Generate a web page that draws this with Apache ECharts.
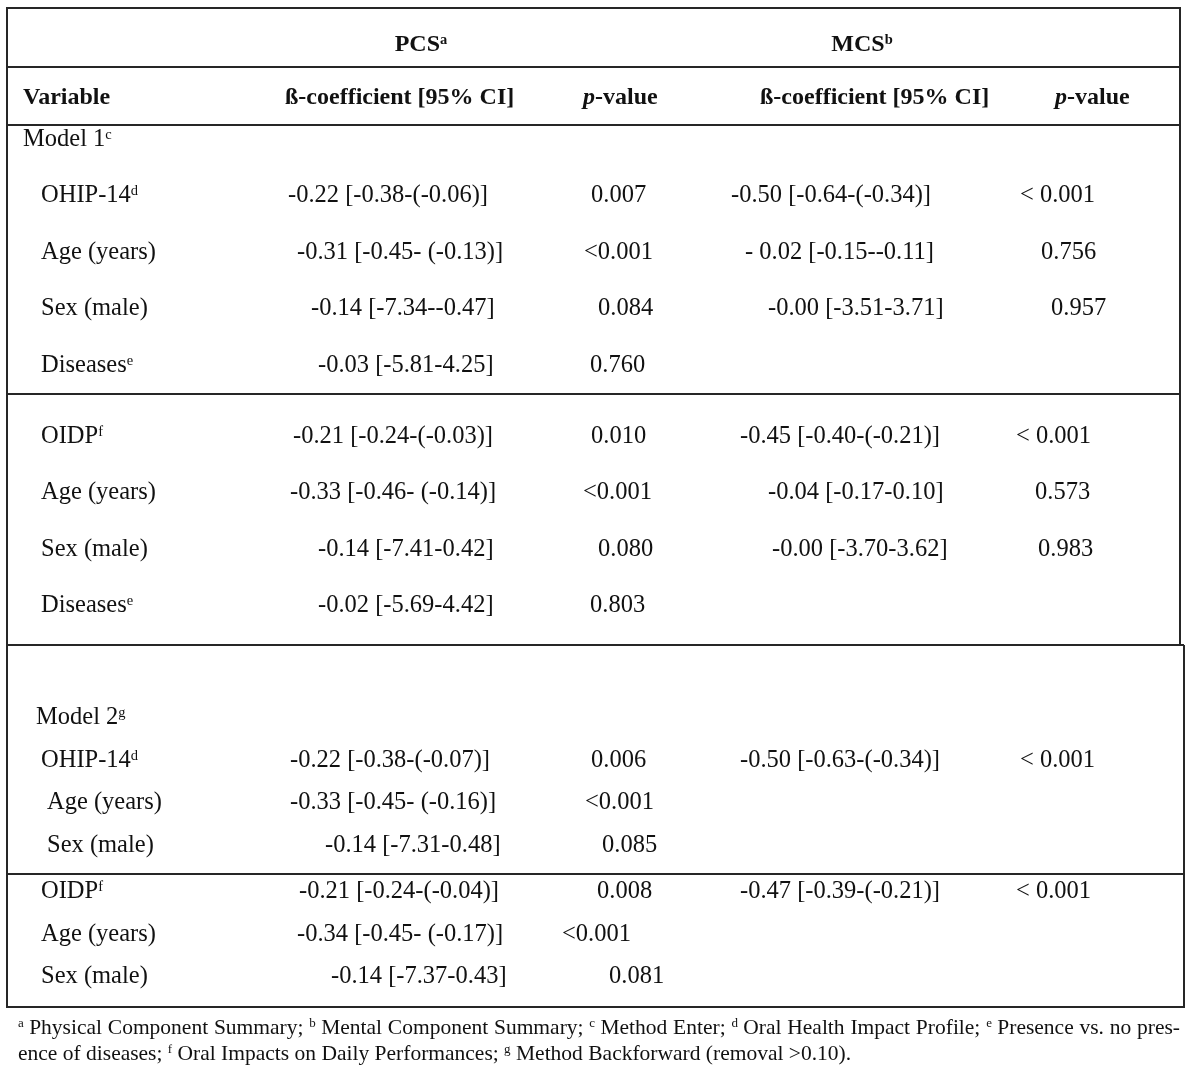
<!DOCTYPE html>
<html>
<head>
<meta charset="utf-8">
<script src="https://cdn.jsdelivr.net/npm/echarts@6/dist/echarts.min.js"></script>
<style>
  html, body { margin: 0; background: #fff; }
  #chart { width: 1200px; height: 1067px; }
</style>
</head>
<body>
<div id="chart"></div>
<script>
// ---- table content ----
const groupNames = ['PCS', 'MCS']
const groupSups = ['a', 'b']
const columnHeads = ['Variable', 'ß-coefficient [95% CI]', '{i|p}-value', 'ß-coefficient [95% CI]', '{i|p}-value']
const modelNames = ['Model 1', 'Model 2']
const modelSups = ['c', 'g']

// Model 1, OHIP-14 block
const m1aVars = ['OHIP-14{s|d}', 'Age (years)', 'Sex (male)', 'Diseases{s|e}']
const m1aPcsB = ['-0.22 [-0.38-(-0.06)]', '-0.31 [-0.45- (-0.13)]', '-0.14 [-7.34--0.47]', '-0.03 [-5.81-4.25]']
const m1aPcsP = ['0.007', '<0.001', '0.084', '0.760']
const m1aMcsB = ['-0.50 [-0.64-(-0.34)]', '- 0.02 [-0.15--0.11]', '-0.00 [-3.51-3.71]', '']
const m1aMcsP = ['< 0.001', '0.756', '0.957', '']

// Model 1, OIDP block
const m1bVars = ['OIDP{s|f}', 'Age (years)', 'Sex (male)', 'Diseases{s|e}']
const m1bPcsB = ['-0.21 [-0.24-(-0.03)]', '-0.33 [-0.46- (-0.14)]', '-0.14 [-7.41-0.42]', '-0.02 [-5.69-4.42]']
const m1bPcsP = ['0.010', '<0.001', '0.080', '0.803']
const m1bMcsB = ['-0.45 [-0.40-(-0.21)]', '-0.04 [-0.17-0.10]', '-0.00 [-3.70-3.62]', '']
const m1bMcsP = ['< 0.001', '0.573', '0.983', '']

// Model 2, OHIP-14 block
const m2aVars = ['OHIP-14{s|d}', 'Age (years)', 'Sex (male)']
const m2aPcsB = ['-0.22 [-0.38-(-0.07)]', '-0.33 [-0.45- (-0.16)]', '-0.14 [-7.31-0.48]']
const m2aPcsP = ['0.006', '<0.001', '0.085']
const m2aMcsB = ['-0.50 [-0.63-(-0.34)]', '', '']
const m2aMcsP = ['< 0.001', '', '']

// Model 2, OIDP block
const m2bVars = ['OIDP{s|f}', 'Age (years)', 'Sex (male)']
const m2bPcsB = ['-0.21 [-0.24-(-0.04)]', '-0.34 [-0.45- (-0.17)]', '-0.14 [-7.37-0.43]']
const m2bPcsP = ['0.008', '<0.001', '0.081']
const m2bMcsB = ['-0.47 [-0.39-(-0.21)]', '', '']
const m2bMcsP = ['< 0.001', '', '']

const footLine1 = '{f|a} Physical Component Summary; {f|b} Mental Component Summary; {f|c} Method Enter; {f|d} Oral Health Impact Profile; {f|e} Presence vs. no pres-'
const footLine2 = 'ence of diseases; {f|f} Oral Impacts on Daily Performances; {f|g} Method Backforward (removal >0.10).'

// ---- layout (table space = pixels) ----
const groupX = [421, 862]
const headX = [23, 285, 583, 760, 1055]
const layM1a = { y: [196, 253, 309, 366], v: [41, 41, 41, 41], pb: [288, 297, 311, 318], pp: [591, 584, 598, 590], mb: [731, 745, 768], mp: [1020, 1041, 1051] }
const layM1b = { y: [437, 493, 550, 606], v: [41, 41, 41, 41], pb: [293, 290, 318, 318], pp: [591, 583, 598, 590], mb: [740, 768, 772], mp: [1016, 1035, 1038] }
const layM2a = { y: [761, 803, 846], v: [41, 47, 47], pb: [290, 290, 325], pp: [591, 585, 602], mb: [740], mp: [1020] }
const layM2b = { y: [892, 935, 977], v: [41, 41, 41], pb: [299, 297, 331], pp: [597, 562, 609], mb: [740], mp: [1016] }
// rules: [x1, y1, x2, y2]
const rules = [
  [7, 8, 1180, 8], [7, 67, 1180, 67], [7, 125, 1180, 125], [7, 394, 1180, 394],
  [7, 645, 1184, 645], [7, 874, 1184, 874], [7, 1007, 1184, 1007],
  [7, 7, 7, 1008], [1180, 7, 1180, 645], [1184, 645, 1184, 1008]
]

const FONT = '"Liberation Serif", "Times New Roman", serif'
const BODY = 24.5
const FOOT = 21.5
const FOOT_SUP = 13
const kinds = {
  group: { size: 24, weight: 'bold', align: 'center' },
  head: { size: 24, weight: 'bold', align: 'left' },
  body: { size: BODY, weight: 'normal', align: 'left' },
  foot: { size: FOOT, weight: 'normal', align: 'left' }
}
const rich = {
  s: { fontFamily: FONT, fontSize: 14.5, verticalAlign: 'top', lineHeight: 25 },
  bs: { fontFamily: FONT, fontSize: 14.5, fontWeight: 'bold', verticalAlign: 'top', lineHeight: 25 },
  i: { fontFamily: FONT, fontSize: 24, fontWeight: 'bold', fontStyle: 'italic', lineHeight: 25 },
  f: { fontFamily: FONT, fontSize: FOOT_SUP, verticalAlign: 'top', lineHeight: 22 }
}

const cells = []
function put (x, y, text, kind) {
  if (text) cells.push({ x: x, y: y, text: text, kind: kind })
}
groupNames.forEach((g, i) => put(groupX[i], 45, g + '{bs|' + groupSups[i] + '}', 'group'))
columnHeads.forEach((h, i) => put(headX[i], 98, h, 'head'))
put(23, 140, modelNames[0] + '{s|' + modelSups[0] + '}', 'body')
put(36, 718, modelNames[1] + '{s|' + modelSups[1] + '}', 'body')

function putBlock (vars, pcsB, pcsP, mcsB, mcsP, lay) {
  vars.forEach((v, i) => {
    const y = lay.y[i]
    put(lay.v[i], y, v, 'body')
    put(lay.pb[i], y, pcsB[i], 'body')
    put(lay.pp[i], y, pcsP[i], 'body')
    put(lay.mb[i], y, mcsB[i], 'body')
    put(lay.mp[i], y, mcsP[i], 'body')
  })
}
putBlock(m1aVars, m1aPcsB, m1aPcsP, m1aMcsB, m1aMcsP, layM1a)
putBlock(m1bVars, m1bPcsB, m1bPcsP, m1bMcsB, m1bMcsP, layM1b)
putBlock(m2aVars, m2aPcsB, m2aPcsP, m2aMcsB, m2aMcsP, layM2a)
putBlock(m2bVars, m2bPcsB, m2bPcsP, m2bMcsB, m2bMcsP, layM2b)

// footnote line 1 is justified between x=18 and x=1180: place word by word
const ctx = document.createElement('canvas').getContext('2d')
function measure (size, s) {
  ctx.font = size + 'px ' + FONT
  return ctx.measureText(s).width
}
const words = []
footLine1.split(' ').forEach(w => {
  const last = words[words.length - 1]
  if (last && /^\{f\|.\}$/.test(last)) words[words.length - 1] = last + ' ' + w
  else words.push(w)
})
const wordW = words.map(w => {
  const m = w.match(/^\{f\|(.)\}(.*)$/)
  return m ? measure(FOOT_SUP, m[1]) + measure(FOOT, m[2]) : measure(FOOT, w)
})
const gap = Math.max(measure(FOOT, ' '), (1180 - 18 - wordW.reduce((a, b) => a + b, 0)) / (words.length - 1))
let fx = 18
words.forEach((w, i) => {
  put(fx, 1028, w, 'foot')
  fx += wordW[i] + gap
})
put(18, 1054, footLine2, 'foot')

const option = {
  animation: false,
  grid: { left: 0, right: 0, top: 0, bottom: 0 },
  xAxis: { type: 'value', min: 0, max: 1200, show: false },
  yAxis: { type: 'value', min: 0, max: 1067, inverse: true, show: false },
  series: [
    {
      type: 'custom',
      silent: true,
      clip: false,
      encode: { x: [0, 2], y: [1, 3] },
      data: rules,
      renderItem: function (params, api) {
        const a = api.coord([api.value(0), api.value(1)])
        const b = api.coord([api.value(2), api.value(3)])
        return {
          type: 'line',
          shape: { x1: a[0], y1: a[1], x2: b[0], y2: b[1] },
          style: { stroke: '#262626', lineWidth: 2 }
        }
      }
    },
    {
      type: 'custom',
      silent: true,
      clip: false,
      data: cells.map(c => [c.x, c.y]),
      renderItem: function (params, api) {
        const c = cells[params.dataIndex]
        const k = kinds[c.kind]
        const p = api.coord([api.value(0), api.value(1)])
        return {
          type: 'text',
          x: p[0],
          y: p[1],
          style: {
            text: c.text,
            fill: '#111',
            fontFamily: FONT,
            fontSize: k.size,
            fontWeight: k.weight,
            align: k.align,
            verticalAlign: 'middle',
            rich: rich
          }
        }
      }
    }
  ]
}

const chart = echarts.init(document.getElementById('chart'))
chart.setOption(option)
window.addEventListener('resize', () => chart.resize())
</script>
</body>
</html>
